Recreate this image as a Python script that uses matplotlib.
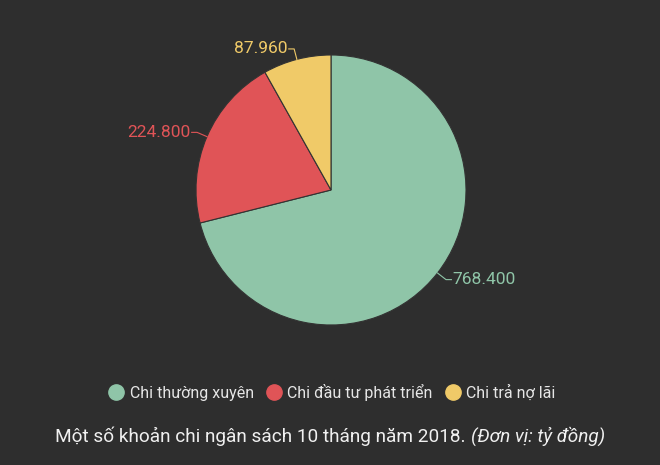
import numpy as np
import matplotlib.pyplot as plt
from matplotlib.lines import Line2D

plt.rcParams['font.family'] = ['Roboto', 'DejaVu Sans']

# Data
categories = ['Chi thường xuyên', 'Chi đầu tư phát triển', 'Chi trả nợ lãi']
values = [768.4, 224.8, 87.96]
value_labels = ['768.400', '224.800', '87.960']
colors = ['#8fc5a8', '#e05457', '#f0ca68']
title_main = 'Một số khoản chi ngân sách 10 tháng năm 2018. '
title_unit = '(Đơn vị: tỷ đồng)'

bg = '#2e2e2e'
fig = plt.figure(figsize=(6.6, 4.65), dpi=100, facecolor=bg)

# pie centred at about (331, 190) px, radius 135 px
cx, cy, r = 331 / 660, 1 - 190 / 465, 135
ax = fig.add_axes([cx - 1.25 * r / 660, cy - 1.25 * r / 465, 2.5 * r / 660, 2.5 * r / 465])
ax.set_facecolor(bg)
wedges, _ = ax.pie(values, colors=colors, startangle=90, counterclock=False,
                   radius=1.0, wedgeprops=dict(edgecolor='#333333', linewidth=0.8))
ax.set_xlim(-1.25, 1.25)
ax.set_ylim(-1.25, 1.25)
ax.set_aspect('equal')
ax.axis('off')

# Data labels with connectors
for w, lab, col in zip(wedges, value_labels, colors):
    ang = np.deg2rad((w.theta1 + w.theta2) / 2)
    x0, y0 = np.cos(ang), np.sin(ang)
    x1, y1 = 1.08 * x0, 1.08 * y0
    side = 1 if x0 > 0 else -1
    xt = x1 + side * 0.04
    ax.plot([x0, x1, xt], [y0, y1, y1], color=col, lw=0.8, clip_on=False)
    ax.text(xt + side * 0.01, y1, lab, color=col, fontsize=12.5,
            ha='left' if side > 0 else 'right', va='center')

# Legend
handles = [Line2D([0], [0], marker='o', linestyle='', markersize=11,
                  markerfacecolor=c, markeredgecolor=c) for c in colors]
fig.legend(handles, categories, loc='center', bbox_to_anchor=(0.5, 1 - 392 / 465),
           ncol=3, frameon=False, fontsize=11.5, labelcolor='#e6e6e6',
           handletextpad=0.1, columnspacing=0.5, handlelength=1.5)

# Title at bottom: regular part + italic unit, centred together
ty = 1 - 436 / 465
t1 = fig.text(0, ty, title_main, color='#f0f0f0', fontsize=13.7,
              ha='left', va='center')
t2 = fig.text(0, ty, title_unit, color='#f0f0f0', fontsize=13.7,
              style='italic', ha='left', va='center')
rend = fig.canvas.get_renderer()
w1 = t1.get_window_extent(rend).width / 660
w2 = t2.get_window_extent(rend).width / 660
x_start = 0.5 - (w1 + w2) / 2
t1.set_x(x_start)
t2.set_x(x_start + w1)

fig.savefig('out.png', dpi=100, facecolor=bg)
